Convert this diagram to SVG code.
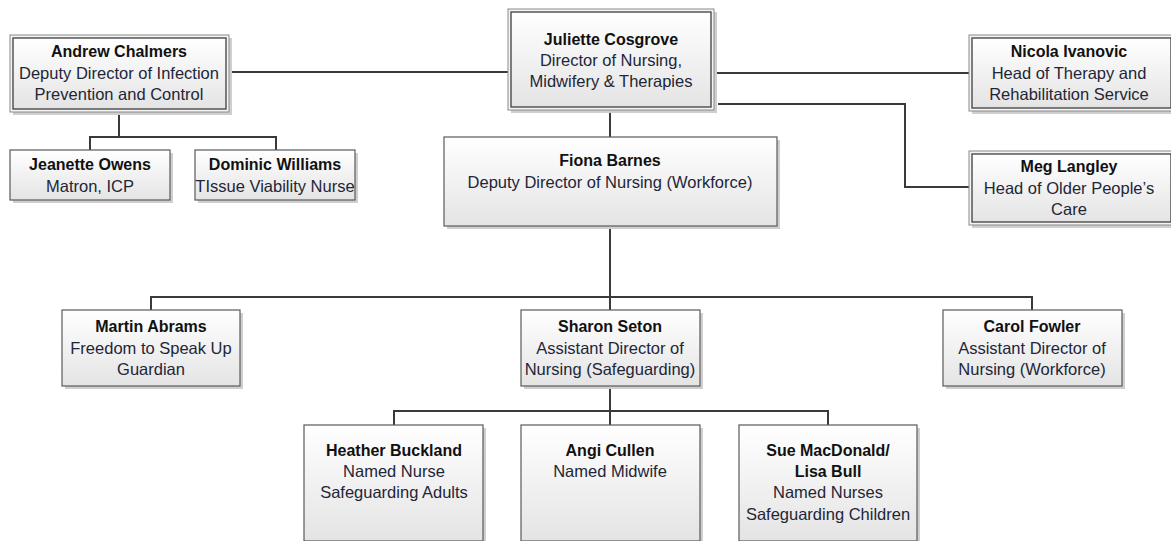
<svg xmlns="http://www.w3.org/2000/svg" width="1171" height="541" viewBox="0 0 1171 541">
  <defs>
    <linearGradient id="boxFill" x1="0" y1="0" x2="0" y2="1">
      <stop offset="0" stop-color="#ffffff"/>
      <stop offset="1" stop-color="#e4e4e4"/>
    </linearGradient>
    <style>
      .shadow { fill: #cfcfcf; }
      .box { fill: url(#boxFill); stroke: #5a5a5a; stroke-width: 1.2; }
      .outer { fill: #f4f4f4; stroke: #8a8a8a; stroke-width: 1; }
      .inner { fill: url(#boxFill); stroke: #4a4a4a; stroke-width: 1.4; }
      .wire { fill: none; stroke: #3a3a3a; stroke-width: 2; }
      text { font-family: "Liberation Sans", Arial, sans-serif; font-size: 16.5px; text-anchor: middle; }
      .name { font-weight: bold; fill: #111111; font-size: 16px; }
      .role { fill: #1e2638; }
    </style>
  </defs>
  <rect width="1171" height="541" fill="#ffffff"/>

  <!-- connectors -->
  <g id="connectors">
    <path class="wire" d="M229 72 H508"/>
    <path class="wire" d="M714 73 H969"/>
    <path class="wire" d="M718 104 H905 V187 H969"/>
    <path class="wire" d="M610 110 V137"/>
    <path class="wire" d="M119 112 V137 M90 150 V137 H276 V150"/>
    <path class="wire" d="M610 226 V310 M151 310 V297 H1032 V310"/>
    <path class="wire" d="M610 386 V425 M394 425 V411 H828 V425"/>
  </g>

  <!-- Andrew Chalmers -->
  <g id="andrew-chalmers">
    <rect class="shadow" x="13" y="38" width="219" height="77"/>
    <rect class="outer" x="10" y="35" width="219" height="77"/>
    <rect class="inner" x="13" y="38" width="213" height="71"/>
    <text class="name" x="119" y="57">Andrew Chalmers</text>
    <text class="role" x="119" y="79">Deputy Director of Infection</text>
    <text class="role" x="119" y="100">Prevention and Control</text>
  </g>

  <!-- Juliette Cosgrove -->
  <g id="juliette-cosgrove">
    <rect class="shadow" x="511" y="12" width="206" height="101"/>
    <rect class="outer" x="508" y="9" width="206" height="101"/>
    <rect class="inner" x="511" y="12" width="200" height="95"/>
    <text class="name" x="611" y="45">Juliette Cosgrove</text>
    <text class="role" x="611" y="66">Director of Nursing,</text>
    <text class="role" x="611" y="87">Midwifery &amp; Therapies</text>
  </g>

  <!-- Nicola Ivanovic -->
  <g id="nicola-ivanovic">
    <rect class="shadow" x="972" y="38" width="205" height="76"/>
    <rect class="outer" x="969" y="35" width="205" height="76"/>
    <rect class="inner" x="972" y="38" width="199" height="70"/>
    <text class="name" x="1069" y="57">Nicola Ivanovic</text>
    <text class="role" x="1069" y="79">Head of Therapy and</text>
    <text class="role" x="1069" y="100">Rehabilitation Service</text>
  </g>

  <!-- Meg Langley -->
  <g id="meg-langley">
    <rect class="shadow" x="972" y="154" width="205" height="74"/>
    <rect class="outer" x="969" y="151" width="205" height="74"/>
    <rect class="inner" x="972" y="154" width="199" height="68"/>
    <text class="name" x="1069" y="172">Meg Langley</text>
    <text class="role" x="1069" y="194">Head of Older People’s</text>
    <text class="role" x="1069" y="215">Care</text>
  </g>

  <!-- Jeanette Owens -->
  <g id="jeanette-owens">
    <rect class="shadow" x="13" y="153" width="160" height="50"/>
    <rect class="box" x="10" y="150" width="160" height="50"/>
    <text class="name" x="90" y="170">Jeanette Owens</text>
    <text class="role" x="90" y="192">Matron, ICP</text>
  </g>

  <!-- Dominic Williams -->
  <g id="dominic-williams">
    <rect class="shadow" x="198" y="153" width="160" height="50"/>
    <rect class="box" x="195" y="150" width="160" height="50"/>
    <text class="name" x="275" y="170">Dominic Williams</text>
    <text class="role" x="275" y="192">TIssue Viability Nurse</text>
  </g>

  <!-- Fiona Barnes -->
  <g id="fiona-barnes">
    <rect class="shadow" x="447" y="140" width="333" height="89"/>
    <rect class="box" x="444" y="137" width="333" height="89"/>
    <text class="name" x="610" y="166">Fiona Barnes</text>
    <text class="role" x="610" y="188">Deputy Director of Nursing (Workforce)</text>
  </g>

  <!-- Martin Abrams -->
  <g id="martin-abrams">
    <rect class="shadow" x="65" y="313" width="178" height="76"/>
    <rect class="box" x="62" y="310" width="178" height="76"/>
    <text class="name" x="151" y="332">Martin Abrams</text>
    <text class="role" x="151" y="354">Freedom to Speak Up</text>
    <text class="role" x="151" y="375">Guardian</text>
  </g>

  <!-- Sharon Seton -->
  <g id="sharon-seton">
    <rect class="shadow" x="524" y="313" width="179" height="76"/>
    <rect class="box" x="521" y="310" width="179" height="76"/>
    <text class="name" x="610" y="332">Sharon Seton</text>
    <text class="role" x="610" y="354">Assistant Director of</text>
    <text class="role" x="610" y="375">Nursing (Safeguarding)</text>
  </g>

  <!-- Carol Fowler -->
  <g id="carol-fowler">
    <rect class="shadow" x="946" y="313" width="179" height="76"/>
    <rect class="box" x="943" y="310" width="179" height="76"/>
    <text class="name" x="1032" y="332">Carol Fowler</text>
    <text class="role" x="1032" y="354">Assistant Director of</text>
    <text class="role" x="1032" y="375">Nursing (Workforce)</text>
  </g>

  <!-- Heather Buckland -->
  <g id="heather-buckland">
    <rect class="shadow" x="307" y="428" width="179" height="116"/>
    <rect class="box" x="304" y="425" width="179" height="116"/>
    <text class="name" x="394" y="456">Heather Buckland</text>
    <text class="role" x="394" y="477">Named Nurse</text>
    <text class="role" x="394" y="498">Safeguarding Adults</text>
  </g>

  <!-- Angi Cullen -->
  <g id="angi-cullen">
    <rect class="shadow" x="524" y="428" width="179" height="116"/>
    <rect class="box" x="521" y="425" width="179" height="116"/>
    <text class="name" x="610" y="456">Angi Cullen</text>
    <text class="role" x="610" y="477">Named Midwife</text>
  </g>

  <!-- Sue MacDonald / Lisa Bull -->
  <g id="sue-macdonald-lisa-bull">
    <rect class="shadow" x="742" y="428" width="178" height="116"/>
    <rect class="box" x="739" y="425" width="178" height="116"/>
    <text class="name" x="828" y="456">Sue MacDonald/</text>
    <text class="name" x="828" y="477">Lisa Bull</text>
    <text class="role" x="828" y="498">Named Nurses</text>
    <text class="role" x="828" y="520">Safeguarding Children</text>
  </g>
</svg>
